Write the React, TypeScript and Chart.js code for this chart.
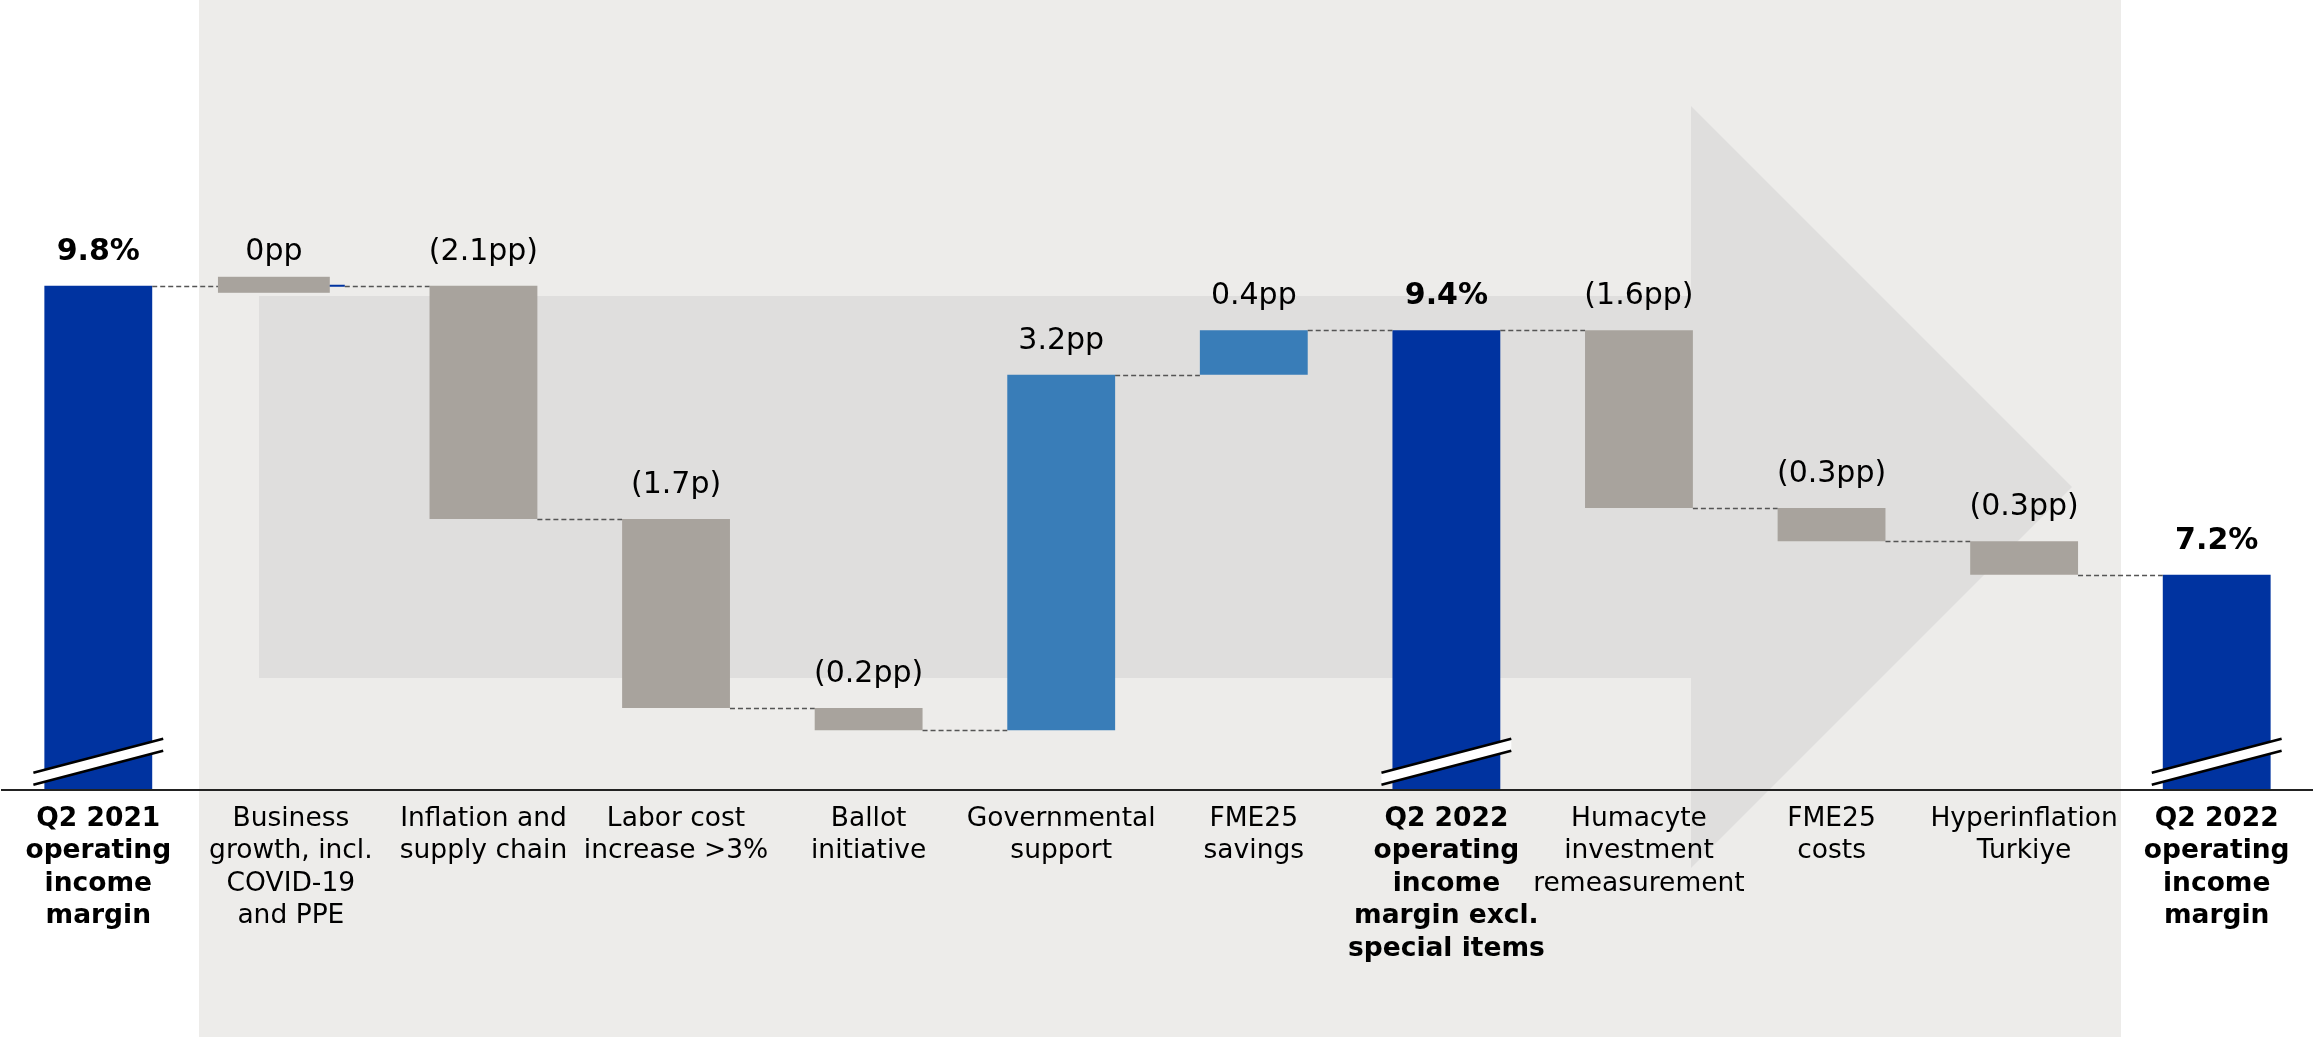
import React, { useEffect, useRef } from "react";
import { Chart, registerables } from "chart.js";

Chart.register(...registerables);

// ---------- data ----------
const categories: string[][] = [
  ["Q2 2021", "operating", "income", "margin"],
  ["Business", "growth, incl.", "COVID-19", "and PPE"],
  ["Inflation and", "supply chain"],
  ["Labor cost", "increase >3%"],
  ["Ballot", "initiative"],
  ["Governmental", "support"],
  ["FME25", "savings"],
  ["Q2 2022", "operating", "income", "margin excl.", "special items"],
  ["Humacyte", "investment", "remeasurement"],
  ["FME25", "costs"],
  ["Hyperinflation", "Turkiye"],
  ["Q2 2022", "operating", "income", "margin"],
];

const values = [9.8, 0, -2.1, -1.7, -0.2, 3.2, 0.4, 9.4, -1.6, -0.3, -0.3, 7.2];

const kinds = [
  "total", "delta", "delta", "delta", "delta", "delta",
  "delta", "total", "delta", "delta", "delta", "total",
];

const valueLabels = [
  "9.8%", "0pp", "(2.1pp)", "(1.7p)", "(0.2pp)", "3.2pp",
  "0.4pp", "9.4%", "(1.6pp)", "(0.3pp)", "(0.3pp)", "7.2%",
];

// ---------- styles ----------
const TOTAL_COLOR = "#0033A0";
const POS_COLOR = "#397DB8";
const NEG_COLOR = "#A8A39D";
const BG_COLOR = "#EDECEA";
const ARROW_COLOR = "#DFDEDD";
const FONT = '"DejaVu Sans", Verdana, sans-serif';
const Y_MIN = 5.265;
const Y_MAX = 12.372;
const ZERO_HALF = 0.009;

function buildRanges() {
  const ranges: number[][] = [];
  const levels: number[] = [];
  const labelLevels: number[] = [];
  let level = 0;
  values.forEach((v, i) => {
    if (kinds[i] === "total") {
      ranges.push([0, v]);
      level = v;
      labelLevels.push(v);
    } else if (v === 0) {
      ranges.push([level - ZERO_HALF, level + ZERO_HALF]);
      labelLevels.push(level);
    } else {
      const end = level + v;
      ranges.push([Math.min(level, end), Math.max(level, end)]);
      labelLevels.push(Math.max(level, end));
      level = end;
    }
    levels.push(level);
  });
  return { ranges, levels, labelLevels };
}

const isZero = (i: number) => kinds[i] !== "total" && values[i] === 0;

export default function App() {
  const ref = useRef<HTMLCanvasElement>(null);

  useEffect(() => {
    if (!ref.current) return;
    const { ranges, levels, labelLevels } = buildRanges();

    const colors = values.map((v, i) =>
      kinds[i] === "total" || v === 0 ? TOTAL_COLOR : v > 0 ? POS_COLOR : NEG_COLOR
    );

    const decor = {
      id: "decor",
      beforeDraw(chart: any) {
        const ctx = chart.ctx;
        ctx.save();
        ctx.fillStyle = "#ffffff";
        ctx.fillRect(0, 0, chart.width, chart.height);
        ctx.fillStyle = BG_COLOR;
        ctx.fillRect(199, 0, 2121 - 199, chart.height);
        ctx.fillStyle = ARROW_COLOR;
        ctx.beginPath();
        ctx.moveTo(259, 296);
        ctx.lineTo(1691, 296);
        ctx.lineTo(1691, 106);
        ctx.lineTo(2072, 487);
        ctx.lineTo(1691, 868);
        ctx.lineTo(1691, 678);
        ctx.lineTo(259, 678);
        ctx.closePath();
        ctx.fill();
        ctx.restore();
      },
    };

    const overlay = {
      id: "overlay",
      afterDatasetsDraw(chart: any) {
        const ctx = chart.ctx;
        const meta = chart.getDatasetMeta(0);
        const ys = chart.scales.y;
        ctx.save();

        // zero-change marker box (drawn offset to the left of its hairline bar)
        const zeroBox = (i: number) => {
          const el = meta.data[i];
          const left = el.x - el.width / 2 - 19;
          const right = el.x + el.width / 2 - 15;
          return { left, right, cx: (left + right) / 2 };
        };
        for (let i = 0; i < values.length; i++) {
          if (!isZero(i)) continue;
          const b = zeroBox(i);
          const y = ys.getPixelForValue(levels[i]);
          ctx.fillStyle = NEG_COLOR;
          ctx.fillRect(b.left, y - 9, b.right - b.left, 16);
        }

        // connectors
        ctx.strokeStyle = "#555555";
        ctx.lineWidth = 1.3;
        ctx.setLineDash([5, 3]);
        for (let i = 0; i < values.length - 1; i++) {
          const a = meta.data[i];
          const b = meta.data[i + 1];
          const y = Math.round(ys.getPixelForValue(levels[i])) + 0.5;
          const x1 = a.x + a.width / 2;
          const x2 = isZero(i + 1) ? zeroBox(i + 1).left : b.x - b.width / 2;
          ctx.beginPath();
          ctx.moveTo(x1, y);
          ctx.lineTo(x2, y);
          ctx.stroke();
        }
        ctx.setLineDash([]);

        // break marks
        const axisY = chart.chartArea.bottom;
        for (let i = 0; i < values.length; i++) {
          if (kinds[i] !== "total") continue;
          const el = meta.data[i];
          const L = el.x - el.width / 2 - 11;
          const R = el.x + el.width / 2 + 11;
          ctx.fillStyle = "#ffffff";
          ctx.beginPath();
          ctx.moveTo(L, axisY - 17);
          ctx.lineTo(R, axisY - 51);
          ctx.lineTo(R, axisY - 39);
          ctx.lineTo(L, axisY - 5);
          ctx.closePath();
          ctx.fill();
          ctx.strokeStyle = "#000000";
          ctx.lineWidth = 2.5;
          ctx.beginPath();
          ctx.moveTo(L, axisY - 17);
          ctx.lineTo(R, axisY - 51);
          ctx.moveTo(L, axisY - 5);
          ctx.lineTo(R, axisY - 39);
          ctx.stroke();
        }

        // value labels
        ctx.fillStyle = "#000000";
        ctx.textAlign = "center";
        ctx.textBaseline = "alphabetic";
        for (let i = 0; i < values.length; i++) {
          const el = meta.data[i];
          const bold = kinds[i] === "total";
          ctx.font = `${bold ? "bold " : ""}30px ${FONT}`;
          const y = ys.getPixelForValue(labelLevels[i]) - 26;
          const x = isZero(i) ? zeroBox(i).cx : el.x;
          ctx.fillText(valueLabels[i], x, y);
        }
        ctx.restore();
      },
    };

    const chart = new Chart(ref.current, {
      type: "bar",
      data: {
        labels: categories,
        datasets: [
          {
            data: ranges as any,
            backgroundColor: colors,
            borderWidth: 0,
            barPercentage: 0.56,
            categoryPercentage: 1,
          },
        ],
      },
      options: {
        animation: false,
        responsive: true,
        maintainAspectRatio: false,
        layout: { padding: { top: 0, left: 2, right: 0, bottom: 59 } },
        plugins: {
          legend: { display: false },
          tooltip: { enabled: false },
        },
        scales: {
          x: {
            grid: { display: false, drawTicks: false, tickLength: 0 },
            border: { display: true, color: "#222222", width: 2, z: 1 },
            ticks: {
              autoSkip: false,
              maxRotation: 0,
              minRotation: 0,
              padding: 13,
              color: "#000000",
              font: (ctx: any) => ({
                family: FONT,
                size: 26.5,
                lineHeight: 1.225,
                weight: kinds[ctx.index] === "total" ? "bold" : "normal",
              }),
            },
          },
          y: {
            display: false,
            min: Y_MIN,
            max: Y_MAX,
          },
        },
      },
      plugins: [decor, overlay],
    });

    return () => chart.destroy();
  }, []);

  return (
    <div
      style={{
        position: "absolute",
        left: 0,
        top: 0,
        width: "2313px",
        height: "1037px",
      }}
    >
      <canvas ref={ref} />
    </div>
  );
}
